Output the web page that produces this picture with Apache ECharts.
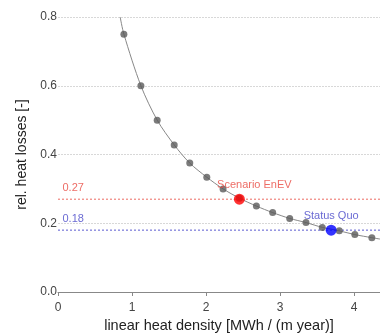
<!DOCTYPE html>
<html>
<head>
<meta charset="utf-8">
<script src="https://cdn.jsdelivr.net/npm/echarts@6/dist/echarts.min.js"></script>
<style>
  html, body { margin: 0; padding: 0; background: #fff; }
  #chart { width: 380px; height: 333px; }
</style>
</head>
<body>
<div id="chart"></div>
<script>
// values
const dotX = [0.89, 1.12, 1.34, 1.57, 1.78, 2.01, 2.23, 2.45, 2.68, 2.90, 3.13, 3.35, 3.57, 3.80, 4.01, 4.24];
const dotY = [0.75, 0.60, 0.50, 0.428, 0.375, 0.334, 0.30, 0.273, 0.25, 0.231, 0.214, 0.202, 0.188, 0.178, 0.167, 0.158];
// curve ends beyond the dots
const curveX = [0.84, 0.89, 1.12, 1.34, 1.57, 1.78, 2.01, 2.23, 2.45, 2.68, 2.90, 3.13, 3.35, 3.57, 3.80, 4.01, 4.24, 4.35];
const curveY = [0.80, 0.75, 0.60, 0.50, 0.428, 0.375, 0.334, 0.30, 0.273, 0.25, 0.231, 0.214, 0.202, 0.188, 0.178, 0.167, 0.158, 0.154];
const scenario = { name: "Scenario EnEV", x: 2.45, y: 0.27 };
const statusQuo = { name: "Status Quo", x: 3.69, y: 0.18 };
const xMin = 0, xMax = 4.35;
const yTicks = [0, 0.2, 0.4, 0.6, 0.8];

const font = "Liberation Sans, Arial, sans-serif";
const chart = echarts.init(document.getElementById("chart"));

// dotted horizontal reference line across the whole plot
const refLine = (val, color) => ({
  type: "line",
  data: [[xMin, val], [xMax, val]],
  symbol: "none",
  silent: true,
  lineStyle: { color: color, type: [2, 2], width: 1 },
  z: 1
});

// value text sitting just above the left end of a reference line
const refText = (val, color) => ({
  type: "scatter",
  data: [[xMin, val]],
  symbolSize: 1,
  itemStyle: { color: "rgba(0,0,0,0)" },
  silent: true,
  label: {
    show: true,
    position: [5, -16],
    formatter: val.toFixed(2),
    color: color,
    fontSize: 11,
    fontFamily: font
  },
  z: 1
});

const option = {
  animation: false,
  grid: { left: 58, right: 0, top: 17, bottom: 41, containLabel: false, outerBoundsMode: "none" },
  xAxis: {
    type: "value",
    min: xMin,
    max: xMax,
    interval: 1,
    name: "linear heat density [MWh / (m year)]",
    nameLocation: "middle",
    nameGap: 22,
    nameTextStyle: { color: "#222", fontSize: 14.5, fontFamily: font },
    axisLine: { show: true, lineStyle: { color: "#888" } },
    axisTick: { show: true, length: 4, lineStyle: { color: "#888" } },
    axisLabel: {
      color: "#444",
      fontSize: 12,
      fontFamily: font,
      margin: 10,
      formatter: (v) => (Number.isInteger(v) ? String(v) : "")
    },
    splitLine: { show: false }
  },
  yAxis: {
    type: "value",
    min: 0,
    max: 0.8,
    interval: 0.2,
    name: "rel. heat losses [-]",
    nameLocation: "middle",
    nameGap: 29,
    nameTextStyle: { color: "#222", fontSize: 14, fontFamily: font },
    axisLine: { show: false },
    axisTick: { show: false },
    axisLabel: {
      color: "#444",
      fontSize: 12,
      fontFamily: font,
      margin: 1,
      formatter: (v) => (yTicks.some((t) => Math.abs(t - v) < 1e-9) ? v.toFixed(1) : "")
    },
    splitLine: { lineStyle: { color: "#d8d8d8", type: [2, 1] } }
  },
  series: [
    refLine(scenario.y, "#ec6a62"),
    refLine(statusQuo.y, "#5a5ad0"),
    refText(scenario.y, "#e8473f"),
    refText(statusQuo.y, "#4545c8"),
    {
      type: "line",
      data: curveX.map((x, i) => [x, curveY[i]]),
      smooth: 0.3,
      symbol: "none",
      lineStyle: { color: "#888", width: 1 },
      z: 2
    },
    {
      type: "scatter",
      data: dotX.map((x, i) => [x, dotY[i]]),
      symbolSize: 7,
      itemStyle: { color: "#5a5a5a" },
      z: 3
    },
    {
      type: "scatter",
      data: [[scenario.x, scenario.y]],
      symbolSize: 11,
      itemStyle: { color: "#ff0000" },
      label: {
        show: true,
        position: "top",
        formatter: scenario.name,
        color: "#e8473f",
        fontSize: 11,
        fontFamily: font,
        offset: [15, 2]
      },
      z: 4
    },
    {
      type: "scatter",
      data: [[statusQuo.x, statusQuo.y]],
      symbolSize: 11,
      itemStyle: { color: "#0000ff" },
      label: {
        show: true,
        position: "top",
        formatter: statusQuo.name,
        color: "#4545c8",
        fontSize: 11,
        fontFamily: font,
        offset: [0, 2]
      },
      z: 4
    }
  ]
};

chart.setOption(option);
</script>
</body>
</html>
